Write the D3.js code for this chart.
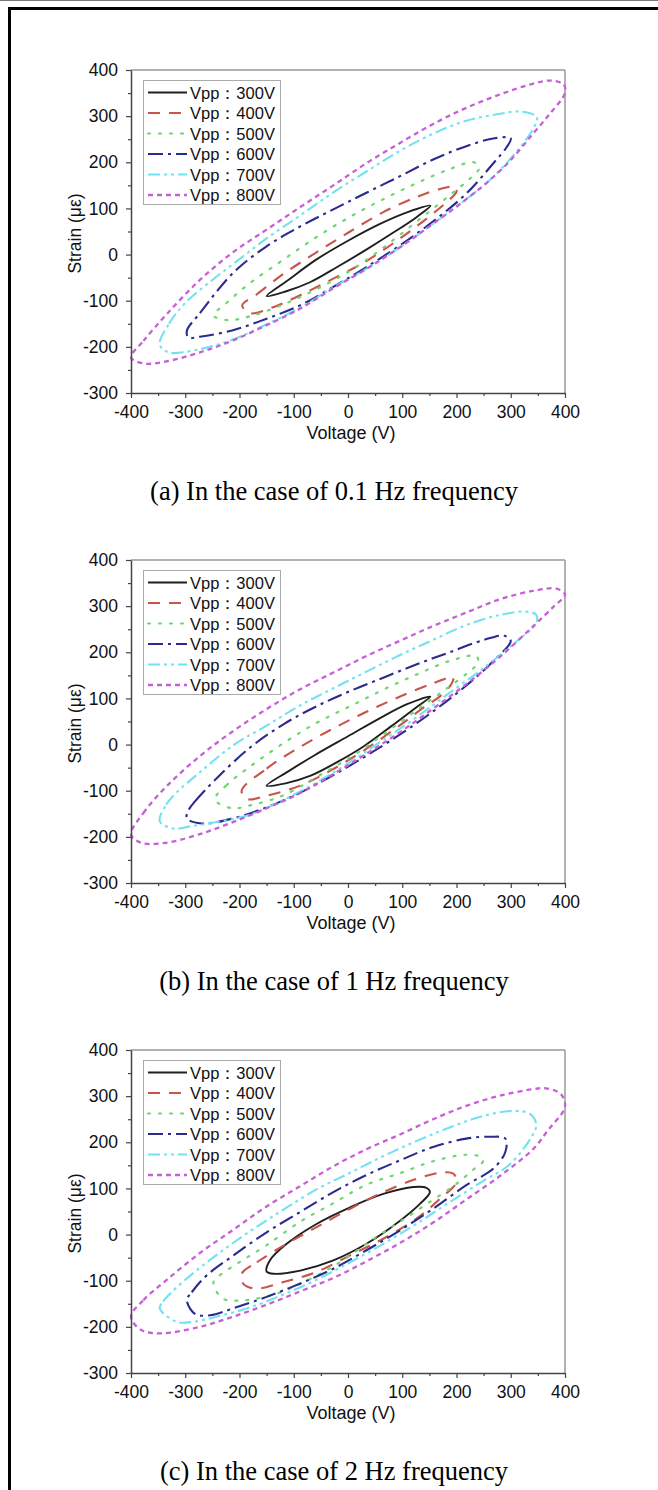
<!DOCTYPE html>
<html><head><meta charset="utf-8">
<script src="https://cdn.jsdelivr.net/npm/d3@7"></script>
<style>
html,body{margin:0;padding:0;background:#fff;}
svg{display:block;}
</style></head>
<body>
<svg id="chart" width="658" height="1490"></svg>
<script>
// ---------- data ----------
const xTickValues = [-400,-300,-200,-100,0,100,200,300,400];
const yTickValues = [-300,-200,-100,0,100,200,300,400];
const seriesNames = ["Vpp：300V","Vpp：400V","Vpp：500V","Vpp：600V","Vpp：700V","Vpp：800V"];
const captions = ["(a) In the case of 0.1 Hz frequency","(b) In the case of 1 Hz frequency","(c) In the case of 2 Hz frequency"];

// Panel (a) 0.1 Hz : [voltage, strain] around each loop
const a300 = [[-150,-90],[-110,-55],[-60,-12],[0,30],[60,67],[110,92],[152,106],[125,80],[80,45],[30,8],[-20,-27],[-70,-60],[-115,-80]];
const a400 = [[-195,-110],[-168,-86],[-119,-42],[-58,5],[4,50],[65,92],[127,125],[170,142],[197,147],[200,136],[182,114],[145,78],[96,35],[34,-14],[-27,-52],[-88,-88],[-138,-114],[-180,-127]];
const a500 = [[-248,-132],[-224,-105],[-181,-62],[-119,-11],[-58,38],[4,82],[65,120],[127,155],[187,185],[232,200],[242,188],[225,165],[187,128],[127,72],[65,15],[4,-35],[-58,-75],[-119,-108],[-181,-134],[-222,-142]];
const a600 = [[-297,-165],[-273,-127],[-212,-40],[-150,18],[-88,61],[-27,98],[34,134],[96,170],[157,206],[218,235],[270,252],[300,252],[292,232],[268,198],[218,132],[157,72],[96,20],[34,-27],[-27,-70],[-88,-110],[-150,-139],[-212,-164],[-273,-178],[-294,-180]];
const a700 = [[-347,-195],[-330,-150],[-300,-105],[-250,-55],[-200,-10],[-150,35],[-88,85],[-27,135],[34,180],[96,225],[157,262],[218,290],[280,305],[318,310],[348,298],[341,272],[310,222],[260,160],[218,120],[157,67],[96,16],[34,-31],[-27,-71],[-88,-115],[-150,-151],[-212,-184],[-273,-205],[-330,-212]];
const a800 = [[-400,-223],[-377,-187],[-334,-129],[-273,-55],[-212,5],[-150,54],[-88,103],[-27,150],[34,198],[96,242],[157,283],[218,318],[280,347],[340,370],[375,377],[398,368],[400,350],[372,305],[341,262],[300,205],[260,160],[218,120],[157,67],[96,16],[34,-31],[-27,-73],[-88,-117],[-150,-153],[-212,-186],[-273,-212],[-337,-232],[-377,-236]];

// Panel (b) 1 Hz
const b300 = [[-150,-89],[-110,-58],[-60,-22],[0,18],[60,58],[110,88],[152,104],[125,80],[80,40],[30,-3],[-20,-38],[-70,-68],[-115,-84]];
const b400 = [[-196,-100],[-150,-52],[-88,-5],[-27,35],[34,71],[96,104],[157,133],[194,146],[190,130],[170,105],[139,80],[96,42],[34,-9],[-27,-53],[-88,-89],[-150,-111],[-186,-118]];
const b500 = [[-245,-119],[-224,-88],[-181,-48],[-119,3],[-58,47],[4,83],[65,119],[127,152],[187,181],[236,192],[240,178],[220,155],[180,120],[127,75],[65,22],[4,-28],[-58,-70],[-119,-110],[-181,-132],[-215,-138]];
const b600 = [[-294,-142],[-282,-123],[-242,-73],[-181,-7],[-119,44],[-58,83],[4,116],[65,145],[127,174],[187,200],[251,227],[288,236],[300,225],[268,181],[218,128],[157,72],[96,22],[34,-24],[-27,-66],[-88,-104],[-150,-136],[-212,-160],[-270,-171],[-297,-160]];
const b700 = [[-347,-166],[-335,-130],[-316,-104],[-273,-60],[-212,-2],[-150,41],[-88,85],[-27,122],[34,158],[96,194],[157,227],[218,259],[280,281],[329,288],[347,281],[347,263],[310,223],[249,165],[187,112],[127,60],[65,10],[4,-38],[-58,-82],[-119,-120],[-181,-152],[-242,-168],[-290,-177],[-322,-182]];
const b800 = [[-400,-195],[-377,-148],[-334,-90],[-273,-25],[-212,29],[-150,77],[-88,120],[-27,156],[34,192],[96,225],[157,257],[218,286],[280,315],[341,333],[384,338],[400,325],[380,300],[341,256],[280,190],[218,131],[157,78],[96,27],[34,-20],[-27,-64],[-88,-105],[-150,-138],[-212,-168],[-273,-194],[-337,-213],[-381,-213]];

// Panel (c) 2 Hz
const c300 = [[-150,-80],[-144,-56],[-113,-20],[-58,23],[4,59],[65,88],[121,103],[145,101],[151,92],[133,67],[96,30],[34,-20],[-27,-56],[-88,-78],[-137,-85]];
const c400 = [[-196,-85],[-168,-60],[-119,-24],[-58,16],[4,56],[65,92],[127,121],[170,134],[194,132],[200,114],[170,78],[127,35],[65,-9],[4,-45],[-58,-81],[-119,-103],[-168,-117],[-192,-108]];
const c500 = [[-248,-103],[-236,-88],[-199,-59],[-150,-23],[-88,28],[-27,68],[34,108],[96,133],[157,159],[218,173],[245,168],[249,159],[230,140],[200,110],[150,70],[96,28],[46,-10],[-15,-60],[-76,-100],[-137,-130],[-199,-143],[-232,-138]];
const c600 = [[-297,-142],[-288,-125],[-261,-89],[-212,-46],[-150,5],[-88,49],[-27,92],[34,129],[96,161],[157,190],[218,208],[262,212],[290,208],[290,179],[268,143],[218,107],[157,56],[96,9],[34,-34],[-27,-74],[-88,-106],[-150,-135],[-212,-160],[-254,-175],[-282,-172]];
const c700 = [[-347,-160],[-341,-145],[-304,-102],[-242,-44],[-181,7],[-119,54],[-58,98],[4,134],[65,170],[127,203],[187,232],[249,257],[304,268],[335,262],[347,239],[341,217],[298,152],[249,116],[187,70],[127,24],[65,-20],[4,-60],[-58,-98],[-119,-130],[-181,-158],[-242,-178],[-285,-189],[-316,-189]];
const c800 = [[-400,-178],[-377,-142],[-334,-98],[-273,-40],[-212,10],[-150,61],[-88,105],[-27,148],[34,185],[96,217],[157,250],[218,279],[280,301],[341,315],[365,317],[392,305],[400,285],[398,270],[370,228],[341,185],[280,127],[218,76],[157,26],[96,-18],[34,-58],[-27,-94],[-88,-123],[-150,-152],[-212,-178],[-273,-200],[-344,-214],[-381,-207]];

const panelLoops = [
  [a300,a400,a500,a600,a700,a800],
  [b300,b400,b500,b600,b700,b800],
  [c300,c400,c500,c600,c700,c800]
];

// ---------- styles ----------
const lineStyles = [
  {color:"#1f1f1f", dash:null, width:1.9},
  {color:"#c8554c", dash:"12,9", width:2.1},
  {color:"#6fd66f", dash:"2,9", width:2.2},
  {color:"#2b2b8f", dash:"15,5,3,5", width:2.1},
  {color:"#72e2f0", dash:"12,4,3,4,3,4", width:2.1},
  {color:"#c660d6", dash:"5,4", width:2.3}
];

const svg = d3.select("#chart");
// outer page frame
svg.append("line").attr("x1",0).attr("x2",658).attr("y1",0.5).attr("y2",0.5).attr("stroke","#777").attr("stroke-width",1);
svg.append("line").attr("x1",8).attr("x2",658).attr("y1",8.5).attr("y2",8.5).attr("stroke","#000").attr("stroke-width",3);
svg.append("line").attr("x1",9.5).attr("x2",9.5).attr("y1",7).attr("y2",1490).attr("stroke","#000").attr("stroke-width",3);

const sans = "'Liberation Sans', Arial, sans-serif";
const serif = "'Liberation Serif', 'Times New Roman', serif";

const plotLeft = 131, plotRight = 565, plotH = 323;
const panelTops = [70, 560, 1050];

panelTops.forEach((top, pi) => {
  const bottom = top + plotH;
  const x = d3.scaleLinear().domain([-400,400]).range([plotLeft, plotRight]);
  const y = d3.scaleLinear().domain([-300,400]).range([bottom, top]);
  const g = svg.append("g");

  const clipId = "clip" + pi;
  svg.append("clipPath").attr("id", clipId).append("rect")
    .attr("x", plotLeft - 2).attr("y", top - 2).attr("width", plotRight - plotLeft + 4).attr("height", plotH + 4);

  // frame (top/right lighter)
  g.append("line").attr("x1",plotLeft).attr("x2",plotRight).attr("y1",top).attr("y2",top).attr("stroke","#999").attr("stroke-width",1.5);
  g.append("line").attr("x1",plotRight).attr("x2",plotRight).attr("y1",top).attr("y2",bottom).attr("stroke","#999").attr("stroke-width",1.5);

  // loops
  const line = d3.line().x(d => x(d[0])).y(d => y(d[1])).curve(d3.curveCatmullRomClosed.alpha(0.5));
  const lg = g.append("g").attr("clip-path", `url(#${clipId})`);
  panelLoops[pi].forEach((pts, si) => {
    const st = lineStyles[si];
    lg.append("path").attr("d", line(pts)).attr("fill","none")
      .attr("stroke", st.color).attr("stroke-width", st.width)
      .attr("stroke-dasharray", st.dash).attr("stroke-linecap", si===2 ? "round" : "butt");
  });

  // axes
  const fmt = d => String(d);
  const xMinor = d3.range(-400, 401, 50).filter(v => v % 100 !== 0);
  const yMinor = d3.range(-300, 401, 50).filter(v => v % 100 !== 0);
  const xAxis = d3.axisBottom(x).tickValues(xTickValues).tickSize(5).tickSizeOuter(0).tickPadding(8).tickFormat(fmt);
  const xAxisMinor = d3.axisBottom(x).tickValues(xMinor).tickSize(3).tickSizeOuter(0).tickFormat("");
  const yAxis = d3.axisLeft(y).tickValues(yTickValues).tickSize(5).tickSizeOuter(0).tickPadding(8).tickFormat(fmt);
  const yAxisMinor = d3.axisLeft(y).tickValues(yMinor).tickSize(3).tickSizeOuter(0).tickFormat("");

  g.append("g").attr("transform", `translate(0,${bottom})`).call(xAxis);
  g.append("g").attr("transform", `translate(0,${bottom})`).call(xAxisMinor).select(".domain").remove();
  g.append("g").attr("transform", `translate(${plotLeft},0)`).call(yAxis);
  g.append("g").attr("transform", `translate(${plotLeft},0)`).call(yAxisMinor).select(".domain").remove();

  g.selectAll(".domain").attr("stroke","#444").attr("stroke-width",1.5);
  g.selectAll(".tick line").attr("stroke","#444").attr("stroke-width",1.2);
  g.selectAll(".tick text").attr("font-family", sans).attr("font-size", 17.5).attr("fill","#111");

  // axis titles
  g.append("text").attr("x", 351).attr("y", bottom + 46).attr("text-anchor","middle")
    .attr("font-family", sans).attr("font-size", 18).attr("fill","#111").text("Voltage (V)");
  g.append("text").attr("transform", `translate(81,${(top+bottom)/2 + 2}) rotate(-90)`).attr("text-anchor","middle")
    .attr("font-family", sans).attr("font-size", 17.5).attr("fill","#111").text("Strain (με)");

  // legend
  const lgX = 143, lgY = top + 10;
  g.append("rect").attr("x", lgX + 0.5).attr("y", lgY + 0.5).attr("width", 137).attr("height", 124)
    .attr("fill","#fff").attr("stroke","#aaa").attr("stroke-width",1);
  seriesNames.forEach((name, si) => {
    const st = lineStyles[si];
    const ry = lgY + 12.5 + si * 20.5;
    g.append("line").attr("x1", lgX + 5).attr("x2", lgX + 44).attr("y1", ry).attr("y2", ry)
      .attr("stroke", st.color).attr("stroke-width", st.width).attr("stroke-dasharray", st.dash)
      .attr("stroke-linecap", si===2 ? "round" : "butt");
    g.append("text").attr("x", lgX + 47).attr("y", ry + 6).attr("font-family", sans).attr("font-size", 16.5)
      .attr("fill","#111").text(name);
  });

  // caption
  svg.append("text").attr("x", 334).attr("y", top + 430).attr("text-anchor","middle")
    .attr("font-family", serif).attr("font-size", 26.5).attr("fill","#000").text(captions[pi]);
});
</script>
</body></html>
